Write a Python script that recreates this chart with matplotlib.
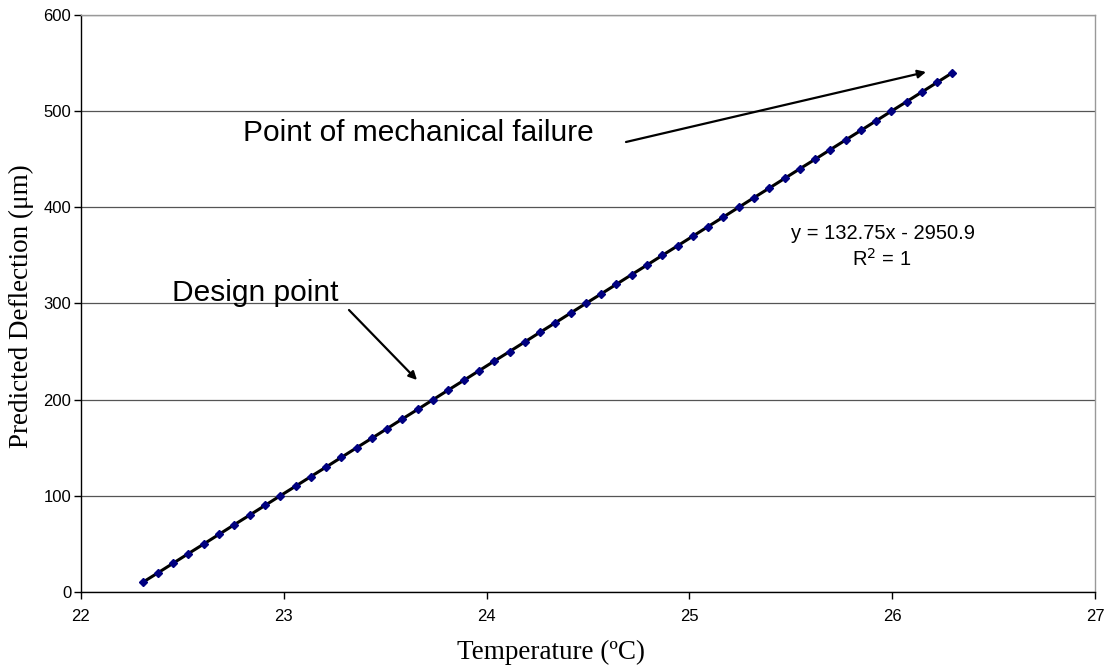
import matplotlib
matplotlib.use("Agg")
import matplotlib.pyplot as plt

temperature = [22.304, 22.380, 22.455, 22.530, 22.606, 22.681, 22.756, 22.832, 22.907, 22.982,
               23.058, 23.133, 23.209, 23.284, 23.359, 23.435, 23.510, 23.585, 23.661, 23.736,
               23.811, 23.887, 23.962, 24.037, 24.113, 24.188, 24.263, 24.339, 24.414, 24.489,
               24.565, 24.640, 24.715, 24.791, 24.866, 24.942, 25.017, 25.092, 25.168, 25.243,
               25.318, 25.394, 25.469, 25.544, 25.620, 25.695, 25.770, 25.846, 25.921, 25.996,
               26.072, 26.147, 26.222, 26.297]
deflection = [10, 20, 30, 40, 50, 60, 70, 80, 90, 100,
              110, 120, 130, 140, 150, 160, 170, 180, 190, 200,
              210, 220, 230, 240, 250, 260, 270, 280, 290, 300,
              310, 320, 330, 340, 350, 360, 370, 380, 390, 400,
              410, 420, 430, 440, 450, 460, 470, 480, 490, 500,
              510, 520, 530, 540]
x_ticks = [22, 23, 24, 25, 26, 27]
y_ticks = [0, 100, 200, 300, 400, 500, 600]

W, H = 1107, 668
fig = plt.figure(figsize=(W / 100, H / 100), dpi=100)
ax = fig.add_axes([81 / W, 1 - 592 / H, (1095 - 81) / W, (592 - 15) / H])

ax.set_xlim(22, 27)
ax.set_ylim(0, 600)
ax.set_xticks(x_ticks)
ax.set_yticks(y_ticks)
ax.yaxis.grid(True, color='#555555', linewidth=0.9)
ax.set_axisbelow(True)

ax.plot(temperature, deflection, color='black', linewidth=2.2, zorder=3)
ax.plot(temperature, deflection, linestyle='none', marker='D', markersize=4.5,
        markerfacecolor='#000080', markeredgecolor='#000080', zorder=4)

for s in ['top', 'right']:
    ax.spines[s].set_color('#999999')
    ax.spines[s].set_linewidth(1.0)
for s in ['left', 'bottom']:
    ax.spines[s].set_color('black')
    ax.spines[s].set_linewidth(1.0)

ax.tick_params(direction='out', length=5, width=1, labelsize=12)
for lab in ax.get_xticklabels() + ax.get_yticklabels():
    lab.set_fontfamily('Liberation Sans')
ax.tick_params(axis='x', pad=7)
ax.tick_params(axis='y', pad=2)

def fp(x, y):
    return (x, H - y)

fig.text(551 / W, 1 - 652 / H, 'Temperature (ºC)', fontfamily='Liberation Serif',
         fontsize=19.5, ha='center', va='center')
fig.text(21 / W, 1 - 306 / H, 'Predicted Deflection (μm)', fontfamily='Liberation Serif',
         fontsize=19.5, ha='center', va='center', rotation=90)

fig.text(243 / W, 1 - 133 / H, 'Point of mechanical failure', fontfamily='Liberation Sans',
         fontsize=21.5, ha='left', va='center')
ax.annotate('', xy=fp(926, 72), xycoords='figure pixels', xytext=fp(626, 142),
            textcoords='figure pixels',
            arrowprops=dict(arrowstyle='-|>', color='black', lw=1.6, mutation_scale=12,
                            shrinkA=0, shrinkB=0))

fig.text(172 / W, 1 - 293 / H, 'Design point', fontfamily='Liberation Sans',
         fontsize=21.5, ha='left', va='center')
ax.annotate('', xy=fp(417, 380), xycoords='figure pixels', xytext=fp(349, 310),
            textcoords='figure pixels',
            arrowprops=dict(arrowstyle='-|>', color='black', lw=1.6, mutation_scale=12,
                            shrinkA=0, shrinkB=0))

fig.text(883 / W, 1 - 233 / H, 'y = 132.75x - 2950.9', fontfamily='Liberation Sans',
         fontsize=14.5, ha='center', va='center')
fig.text(882 / W, 1 - 259 / H, r'R$^2$ = 1', fontfamily='Liberation Sans',
         fontsize=14.5, ha='center', va='center')

fig.savefig('out.png', dpi=100)
